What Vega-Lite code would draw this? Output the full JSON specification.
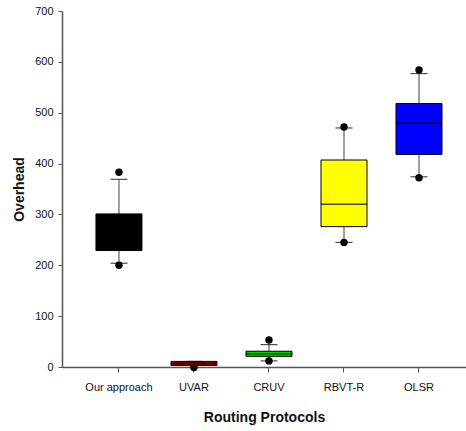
{
  "$schema": "https://vega.github.io/schema/vega-lite/v6.json",
  "autosize": "none",
  "width": 404,
  "height": 356,
  "padding": {"left": 62, "top": 11, "right": 0, "bottom": 64},
  "background": "white",
  "config": {
    "view": {"stroke": null},
    "font": "Liberation Sans",
    "axis": {
      "labelFont": "Liberation Sans",
      "labelFontSize": 11,
      "labelColor": "#111111",
      "titleFont": "Liberation Sans",
      "titleFontSize": 14,
      "titleFontWeight": "bold",
      "titleColor": "#111111",
      "domainColor": "#555555",
      "domainWidth": 1.5,
      "tickColor": "#555555",
      "tickWidth": 1,
      "grid": false
    }
  },
  "datasets": {
    "boxes": [
      {"protocol": "Our approach", "lo": 204, "q1": 229, "median": 270, "q3": 301, "hi": 369},
      {"protocol": "UVAR", "lo": 3, "q1": 3, "median": 7, "q3": 11, "hi": 11},
      {"protocol": "CRUV", "lo": 12, "q1": 21, "median": 26, "q3": 31, "hi": 44},
      {"protocol": "RBVT-R", "lo": 245, "q1": 276, "median": 320, "q3": 407, "hi": 470},
      {"protocol": "OLSR", "lo": 374, "q1": 418, "median": 480, "q3": 518, "hi": 577}
    ],
    "outliers": [
      {"protocol": "Our approach", "value": 200},
      {"protocol": "Our approach", "value": 383},
      {"protocol": "UVAR", "value": -1},
      {"protocol": "CRUV", "value": 12},
      {"protocol": "CRUV", "value": 53},
      {"protocol": "RBVT-R", "value": 245},
      {"protocol": "RBVT-R", "value": 472},
      {"protocol": "OLSR", "value": 372},
      {"protocol": "OLSR", "value": 584}
    ]
  },
  "encoding": {
    "x": {
      "field": "protocol",
      "type": "nominal",
      "sort": ["Our approach", "UVAR", "CRUV", "RBVT-R", "OLSR"],
      "scale": {"type": "band", "paddingInner": 0, "paddingOuter": 0.193, "align": 0.672},
      "axis": {
        "title": "Routing Protocols",
        "labelAngle": 0,
        "tickSize": 5,
        "labelPadding": 9,
        "titlePadding": 18
      }
    }
  },
  "layer": [
    {
      "data": {"name": "boxes"},
      "mark": {"type": "rule", "color": "#808080", "strokeWidth": 1.5},
      "encoding": {
        "y": {
          "field": "lo",
          "type": "quantitative",
          "scale": {"domain": [0, 700], "nice": false, "clamp": false},
          "axis": {
            "title": "Overhead",
            "values": [0, 100, 200, 300, 400, 500, 600, 700],
            "tickSize": 4,
            "labelPadding": 5,
            "titlePadding": 8
          }
        },
        "y2": {"field": "hi"}
      }
    },
    {
      "data": {"name": "outliers"},
      "mark": {"type": "point", "filled": true, "color": "black", "opacity": 1, "size": 55},
      "encoding": {"y": {"field": "value", "type": "quantitative"}}
    },
    {
      "data": {"name": "boxes"},
      "mark": {"type": "bar", "size": 46, "stroke": "black", "strokeWidth": 1},
      "encoding": {
        "y": {"field": "q1", "type": "quantitative"},
        "y2": {"field": "q3"},
        "color": {
          "field": "protocol",
          "type": "nominal",
          "scale": {
            "domain": ["Our approach", "UVAR", "CRUV", "RBVT-R", "OLSR"],
            "range": ["#000000", "#8B0000", "#00D000", "#FFFF00", "#0000FF"]
          },
          "legend": null
        }
      }
    },
    {
      "data": {"name": "boxes"},
      "mark": {"type": "tick", "size": 46, "thickness": 1.5, "color": "black"},
      "encoding": {"y": {"field": "median", "type": "quantitative"}}
    },
    {
      "data": {"name": "boxes"},
      "mark": {"type": "tick", "size": 17, "thickness": 1.2, "color": "black"},
      "encoding": {"y": {"field": "hi", "type": "quantitative"}}
    },
    {
      "data": {"name": "boxes"},
      "mark": {"type": "tick", "size": 17, "thickness": 1.2, "color": "black"},
      "encoding": {"y": {"field": "lo", "type": "quantitative"}}
    },
    {
      "mark": {"type": "rule", "color": "#555555", "strokeWidth": 1.5},
      "encoding": {"y": {"datum": 700, "type": "quantitative"}}
    }
  ]
}
